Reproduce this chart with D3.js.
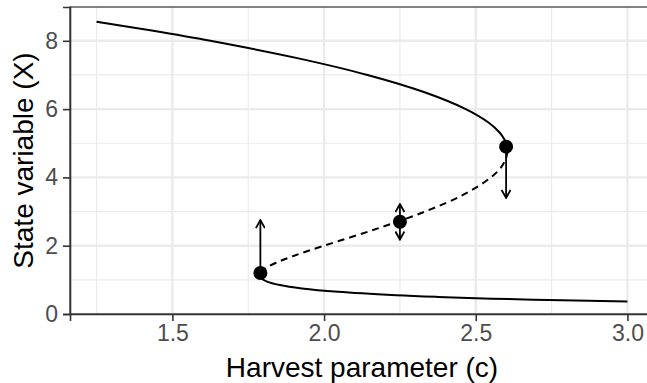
<!DOCTYPE html>
<html>
<head>
<meta charset="utf-8">
<script src="https://cdn.jsdelivr.net/npm/d3@7"></script>
<style>
  body { margin: 0; background: #fff; }
  svg { display: block; font-family: "Liberation Sans", Arial, sans-serif; }
</style>
</head>
<body>
<svg id="chart"></svg>
<script>
// equilibrium branches, [harvest c, state X]
const upperBranch = [[2.604, 4.78], [2.604, 4.85], [2.602, 4.95], [2.595, 5.1], [2.580, 5.3], [2.543, 5.6],
  [2.467, 6.0], [2.329, 6.5], [2.143, 7.0], [1.908, 7.5], [1.625, 8.0], [1.432, 8.3], [1.25, 8.56]];
const middleBranch = [[2.604, 4.78], [2.601, 4.6], [2.584, 4.3], [2.55, 4.0], [2.461, 3.5], [2.333, 3.0],
  [2.175, 2.5], [2.0, 2.0], [1.899, 1.7], [1.842, 1.5], [1.809, 1.35], [1.794, 1.25], [1.787, 1.14]];
const lowerBranch = [[1.787, 1.14], [1.792, 1.05], [1.812, 0.95], [1.854, 0.85], [1.927, 0.75], [2.046, 0.65],
  [2.238, 0.55], [2.375, 0.5], [2.552, 0.45], [2.784, 0.4], [3.0, 0.364]];

const pointC = [1.79, 2.25, 2.6];
const pointX = [1.2, 2.7, 4.9];

// arrows: c, from X, to X
const arrows = [[1.79, 1.2, 2.75], [2.25, 2.7, 3.22], [2.25, 2.7, 2.18], [2.6, 4.9, 3.4]];

const xTicks = [1.5, 2.0, 2.5, 3.0];
const xMinor = [1.25, 1.75, 2.25, 2.75];
const yTicks = [0, 2, 4, 6, 8];
const yMinor = [1, 3, 5, 7];

const width = 647, height = 383;
const margin = { top: 7, right: -7, bottom: 69, left: 70 };

const svg = d3.select('#chart')
  .attr('width', width)
  .attr('height', height);

const x = d3.scaleLinear()
  .domain([1.1625, 3.0875])
  .range([margin.left, width - margin.right]);
const y = d3.scaleLinear()
  .domain([0, 8.99])
  .range([height - margin.bottom, margin.top]);

const x0 = margin.left, x1 = width - margin.right;
const y0 = height - margin.bottom, y1 = margin.top;

// grid
const grid = svg.append('g');
grid.selectAll('.xminor').data(xMinor).join('line')
  .attr('x1', d => x(d)).attr('x2', d => x(d)).attr('y1', y0).attr('y2', y1)
  .attr('stroke', '#ebebeb').attr('stroke-width', 1.2);
grid.selectAll('.yminor').data(yMinor).join('line')
  .attr('y1', d => y(d)).attr('y2', d => y(d)).attr('x1', x0).attr('x2', x1)
  .attr('stroke', '#ebebeb').attr('stroke-width', 1.2);
grid.selectAll('.xmajor').data(xTicks).join('line')
  .attr('x1', d => x(d)).attr('x2', d => x(d)).attr('y1', y0).attr('y2', y1)
  .attr('stroke', '#ebebeb').attr('stroke-width', 2.4);
grid.selectAll('.ymajor').data(yTicks).join('line')
  .attr('y1', d => y(d)).attr('y2', d => y(d)).attr('x1', x0).attr('x2', x1)
  .attr('stroke', '#ebebeb').attr('stroke-width', 2.4);

// panel border
svg.append('rect')
  .attr('x', x0).attr('y', y1)
  .attr('width', x1 - x0).attr('height', y0 - y1)
  .attr('fill', 'none').attr('stroke', '#333333').attr('stroke-width', 1.2);

// branches
const line = d3.line()
  .x(d => x(d[0]))
  .y(d => y(d[1]))
  .curve(d3.curveCatmullRom.alpha(0.5));

svg.append('path').datum(upperBranch).attr('d', line)
  .attr('fill', 'none').attr('stroke', '#000').attr('stroke-width', 2);
svg.append('path').datum(middleBranch).attr('d', line)
  .attr('fill', 'none').attr('stroke', '#000').attr('stroke-width', 2)
  .attr('stroke-dasharray', '7,5');
svg.append('path').datum(lowerBranch).attr('d', line)
  .attr('fill', 'none').attr('stroke', '#000').attr('stroke-width', 2);

// arrows
svg.append('defs').append('marker')
  .attr('id', 'head')
  .attr('viewBox', '0 0 10 10')
  .attr('refX', 9).attr('refY', 5)
  .attr('markerWidth', 10).attr('markerHeight', 10)
  .attr('markerUnits', 'userSpaceOnUse')
  .attr('orient', 'auto')
  .append('path')
  .attr('d', 'M1,0.5 L9,5 L1,9.5')
  .attr('fill', 'none').attr('stroke', '#000').attr('stroke-width', 1.8);

svg.selectAll('.arrow').data(arrows).join('line')
  .attr('x1', d => x(d[0])).attr('x2', d => x(d[0]))
  .attr('y1', d => y(d[1])).attr('y2', d => y(d[2]))
  .attr('stroke', '#000').attr('stroke-width', 1.8)
  .attr('marker-end', 'url(#head)');

// points
svg.selectAll('.pt').data(pointC).join('circle')
  .attr('cx', d => x(d))
  .attr('cy', (d, i) => y(pointX[i]))
  .attr('r', 7)
  .attr('fill', '#000');

// axes
const xAxis = svg.append('g')
  .attr('transform', `translate(0,${y0})`)
  .call(d3.axisBottom(x).tickValues(xTicks).tickFormat(d3.format('.1f')).tickSize(7).tickPadding(4));
const yAxis = svg.append('g')
  .attr('transform', `translate(${x0},0)`)
  .call(d3.axisLeft(y).tickValues(yTicks).tickSize(7).tickPadding(5));

[xAxis, yAxis].forEach(g => {
  g.select('.domain').attr('stroke', '#333333').attr('stroke-width', 1.6);
  g.selectAll('.tick line').attr('stroke', '#333333').attr('stroke-width', 1.6);
  g.selectAll('.tick text')
    .attr('fill', '#4d4d4d')
    .style('font-size', '23px')
    .style('font-family', '"Liberation Sans", Arial, sans-serif');
});

// titles
svg.append('text')
  .attr('x', (x0 + 654) / 2)
  .attr('y', 377)
  .attr('text-anchor', 'middle')
  .style('font-size', '28px')
  .text('Harvest parameter (c)');

svg.append('text')
  .attr('transform', `translate(33,${(y0 + y1) / 2}) rotate(-90)`)
  .attr('text-anchor', 'middle')
  .style('font-size', '28px')
  .text('State variable (X)');
</script>
</body>
</html>
